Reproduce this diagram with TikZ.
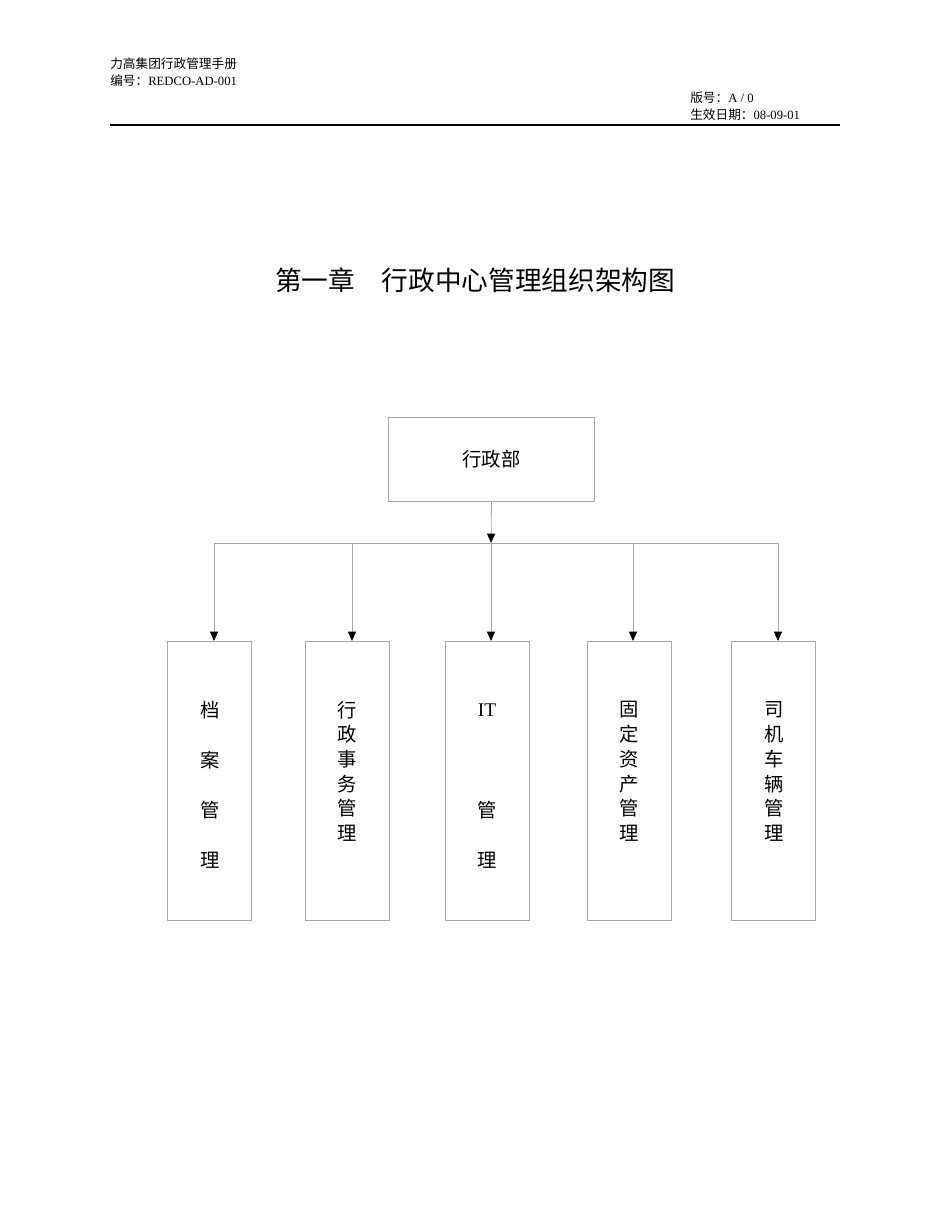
\documentclass[tikz,border=0pt]{standalone}
\usepackage{fontspec}
\setmainfont{Liberation Serif}
\newfontfamily\cjk{Noto Sans CJK SC}
\usetikzlibrary{arrows.meta}
\begin{document}
\begin{tikzpicture}[x=0.75pt,y=-0.75pt,
  box/.style={draw=black!35,line width=0.6pt},
  conn/.style={draw=black!35,line width=0.6pt},
  arr/.style={conn,-{Triangle[length=7pt,width=6pt,fill=black,color=black]}},
  hd/.style={font=\fontsize{9.5}{11}\selectfont,anchor=west,inner sep=0},
  vt/.style={font=\cjk\fontsize{14.5}{16}\selectfont,inner sep=0}]
\useasboundingbox (0,0) rectangle (950,1230);
\node[hd] (h1) at (110,64) {{\cjk 力高集团行政管理手册}};
\node[hd] (h2) at (110,81) {{\cjk 编号：}REDCO-AD-001};
\node[hd] (h3) at (690,98) {{\cjk 版号：}A / 0};
\node[hd] (h4) at (690,115) {{\cjk 生效日期：}08-09-01};
\draw[line width=1.5pt] (110,125) -- (840,125);
\node[font=\cjk\fontsize{20}{24}\selectfont] (title) at (475,280) {第一章　行政中心管理组织架构图};
\node[box,minimum width=154pt,minimum height=63pt,font=\cjk\fontsize{14.5}{16}\selectfont] (top) at (491.5,459) {行政部};
\coordinate (j) at (491,543);
\draw[arr] (top.south) -- (j);
\draw[conn] (214,543) -- (778,543);
\foreach \n/\x/\bx in {a/214/209.5,b/352/347,c/491/487,d/633/629,e/778/773}{
  \node[box,minimum width=63pt,minimum height=209pt,anchor=north] (\n) at (\bx,641) {};
  \coordinate (t\n) at (\x,543);
  \draw[arr] (t\n) -- (\x,641);
}
\foreach \c [count=\i] in {档,案,管,理}
  \node[vt] (a\i) at (210,710+50*\i-50) {\c};
\foreach \c [count=\i] in {行,政,事,务,管,理}
  \node[vt] (b\i) at (347,710+24.6*\i-24.6) {\c};
\node[font=\fontsize{14.5}{16}\selectfont,inner sep=0] (c1) at (487,710) {IT};
\node[vt] (c2) at (487,810) {管};
\node[vt] (c3) at (487,860) {理};
\foreach \c [count=\i] in {固,定,资,产,管,理}
  \node[vt] (d\i) at (629,710+24.6*\i-24.6) {\c};
\foreach \c [count=\i] in {司,机,车,辆,管,理}
  \node[vt] (e\i) at (774,710+24.6*\i-24.6) {\c};
\end{tikzpicture}
\end{document}
